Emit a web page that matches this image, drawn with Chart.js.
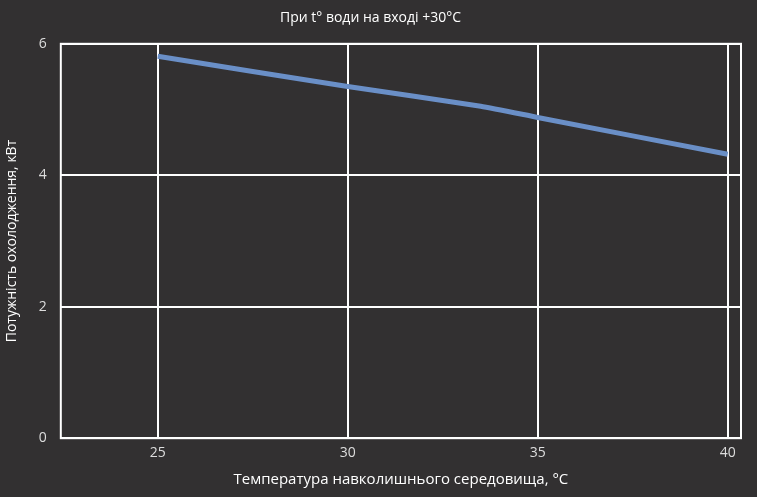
<!DOCTYPE html><html><head><script src="https://cdn.jsdelivr.net/npm/chart.js@4"></script>
<style>html,body{margin:0;background:#323031}#w{width:757px;height:497px}</style></head><body><div id="w"><canvas id="c"></canvas></div>
<script>
const xValues=[25,30,33.5,35,40];
const yValues=[5.81,5.35,5.05,4.88,4.32];
const xTicks=[25,30,35,40];
const yTicks=[0,2,4,6];
const border={id:'b',afterDraw(c){const a=c.chartArea,x=c.ctx;x.save();x.strokeStyle='#fff';x.lineWidth=2;x.strokeRect(a.left,a.top,a.right-a.left,a.bottom-a.top);x.restore();}};
new Chart(document.getElementById('c'),{type:'line',
data:{datasets:[{data:xValues.map((x,i)=>({x,y:yValues[i]})),borderColor:'#6a8fc7',borderWidth:5,pointRadius:0,tension:0.2}]},
options:{responsive:true,maintainAspectRatio:false,animation:false,
layout:{padding:{left:0,right:16,top:8,bottom:8}},
plugins:{legend:{display:false},title:{display:true,text:'При t° води на вході +30°C',color:'#fff',font:{family:'Open Sans',size:14,weight:'normal'},padding:{top:2,bottom:17}}},
scales:{x:{type:'linear',min:22.45,max:40.35,afterBuildTicks:s=>{s.ticks=xTicks.map(v=>({value:v}))},
grid:{color:'#fff',lineWidth:2,drawTicks:false},border:{display:false},
ticks:{color:'#ddd',font:{family:'Open Sans',size:14},padding:6},
title:{display:true,text:'Температура навколишнього середовища, °C',color:'#fff',font:{family:'Open Sans',size:15},padding:{top:4,bottom:0}}},
y:{min:0,max:6,afterBuildTicks:s=>{s.ticks=yTicks.map(v=>({value:v}))},
grid:{color:'#fff',lineWidth:2,drawTicks:false},border:{display:false},
ticks:{color:'#ddd',font:{family:'Open Sans',size:14},padding:14},
title:{display:true,text:'Потужність охолодження, кВт',color:'#fff',font:{family:'Open Sans',size:14}}}}},
plugins:[border]});
</script></body></html>
